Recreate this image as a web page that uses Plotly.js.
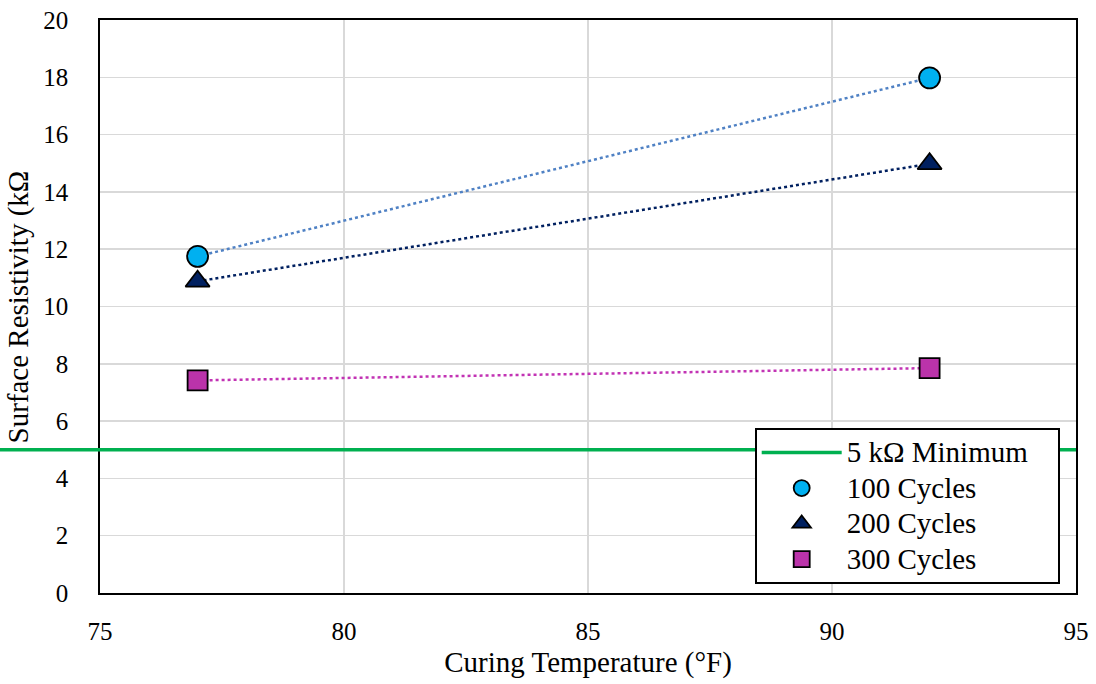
<!DOCTYPE html>
<html>
<head>
<meta charset="utf-8">
<script src="https://cdn.plot.ly/plotly-3.0.1.min.js"></script>
<style>html,body{margin:0;padding:0;background:#fff;}#chart{width:1096px;height:684px;}</style>
</head>
<body>
<div id="chart"></div>
<script>
// Data
const temperatures = [77, 92];
const cycles100 = [11.75, 17.98];
const cycles200 = [10.88, 14.98];
const cycles300 = [7.42, 7.85];
const minimumValue = 5;
const seriesNames = ["100 Cycles", "200 Cycles", "300 Cycles"];
const minimumName = "5 k\u03A9 Minimum";
const xTickVals = [75, 80, 85, 90, 95];
const yTickVals = [0, 2, 4, 6, 8, 10, 12, 14, 16, 18, 20];
const xTitle = "Curing Temperature (\u00B0F)";
const yTitle = "Surface Resistivity (k\u03A9";

const font = "Liberation Serif, Times New Roman, serif";
const lg = s => '<span style="font-size:29px">' + s + '</span>';

const traces = [
  {x: temperatures, y: cycles100, mode: "lines", line: {color: "#4f81c4", width: 2.5, dash: "dot"}, showlegend: false, hoverinfo: "skip"},
  {x: temperatures, y: cycles200, mode: "lines", line: {color: "#002060", width: 2.5, dash: "dot"}, showlegend: false, hoverinfo: "skip"},
  {x: temperatures, y: cycles300, mode: "lines", line: {color: "#c233b4", width: 2.5, dash: "dot"}, showlegend: false, hoverinfo: "skip"},
  {x: [null], y: [null], mode: "lines", name: lg(minimumName) + "\u00A0\u00A0\u00A0\u00A0", line: {color: "#00b050", width: 3.5}},
  {x: temperatures, y: cycles100, mode: "markers", name: lg(seriesNames[0]), cliponaxis: false,
   marker: {symbol: "circle", size: 21, color: "#00b0f0", line: {color: "#000", width: 1.8}}},
  {x: temperatures, y: cycles200, mode: "markers", name: lg(seriesNames[1]), cliponaxis: false,
   marker: {symbol: "triangle-up", size: 21, color: "#002060", line: {color: "#000", width: 1.8}}},
  {x: temperatures, y: cycles300, mode: "markers", name: lg(seriesNames[2]), cliponaxis: false,
   marker: {symbol: "square", size: 20, color: "#bb33aa", line: {color: "#000", width: 1.8}}}
];

const layout = {
  width: 1096, height: 684,
  margin: {l: 100, r: 20, t: 20, b: 91},
  paper_bgcolor: "#fff", plot_bgcolor: "#fff",
  font: {family: font, size: 25, color: "#000"},
  xaxis: {
    range: [75, 95], tickmode: "array", tickvals: xTickVals,
    showgrid: true, gridcolor: "#d9d9d9", gridwidth: 1.5,
    zeroline: false, showline: true, linecolor: "#000", linewidth: 1.8, mirror: true,
    ticks: "", ticklabelstandoff: 15,
    tickfont: {family: font, size: 25, color: "#000"},
    title: {text: xTitle, font: {family: font, size: 29, color: "#000"}, standoff: 8}
  },
  yaxis: {
    range: [0, 20], tickmode: "array", tickvals: yTickVals,
    showgrid: true, gridcolor: "#d9d9d9", gridwidth: 1.5,
    zeroline: false, showline: true, linecolor: "#000", linewidth: 1.8, mirror: true,
    ticks: "", ticklabelstandoff: 25,
    tickfont: {family: font, size: 25, color: "#000"}
  },
  annotations: [
    {text: yTitle, xref: "paper", yref: "paper", x: -0.083, y: 0.5, xanchor: "center", yanchor: "middle",
     textangle: -90, showarrow: false, font: {family: font, size: 29, color: "#000"}}
  ],
  shapes: [
    {type: "line", xref: "paper", yref: "y", x0: -0.103, x1: 1, y0: minimumValue, y1: minimumValue,
     line: {color: "#00b050", width: 3.5}, layer: "above"}
  ],
  legend: {
    x: 0.671, y: 0.288, xanchor: "left", yanchor: "top",
    bgcolor: "#fff", bordercolor: "#000", borderwidth: 1.8,
    font: {family: font, size: 25, color: "#000"},
    itemwidth: 80, tracegroupgap: 0
  },
  showlegend: true
};

Plotly.newPlot("chart", traces, layout, {displayModeBar: false, staticPlot: true});
</script>
</body>
</html>
